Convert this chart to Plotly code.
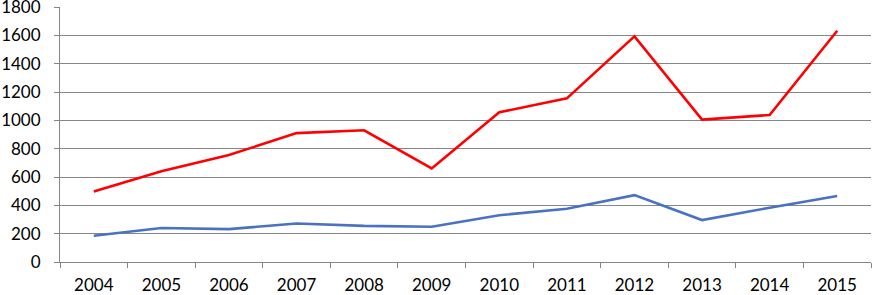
import plotly.graph_objects as go

years = ["2004", "2005", "2006", "2007", "2008", "2009", "2010", "2011", "2012", "2013", "2014", "2015"]
red_values = [497, 640, 755, 910, 930, 660, 1057, 1155, 1593, 1005, 1038, 1632]
blue_values = [185, 240, 232, 272, 255, 249, 330, 376, 472, 296, 383, 466]
y_ticks = [0, 200, 400, 600, 800, 1000, 1200, 1400, 1600, 1800]

fig = go.Figure()
fig.add_trace(go.Scatter(x=years, y=blue_values, mode="lines",
                         line=dict(color="#4A72C2", width=2.6), showlegend=False))
fig.add_trace(go.Scatter(x=years, y=red_values, mode="lines",
                         line=dict(color="#FF0000", width=2.6), showlegend=False))

fig.update_layout(
    width=872, height=295,
    margin=dict(l=60, r=1, t=7, b=33, autoexpand=False),
    paper_bgcolor="white", plot_bgcolor="white",
    font=dict(family="Lato, Open Sans, sans-serif", size=17, color="#000000"),
    xaxis=dict(type="category", range=[-0.5, 11.5], tickson="boundaries",
               ticks="outside", ticklen=5, tickcolor="#868686", automargin=False,
               showline=True, linecolor="#868686", linewidth=1,
               ticklabelstandoff=8,
               showgrid=False, tickfont=dict(size=17)),
    yaxis=dict(range=[0, 1800], tickvals=y_ticks, ticks="outside", ticklen=5,
               tickcolor="#868686", showline=True, linecolor="#868686", linewidth=1,
               automargin=False, ticklabeloverflow="allow", ticklabelstandoff=10,
               showgrid=True, gridcolor="#868686", gridwidth=1, zeroline=False,
               tickfont=dict(size=17)),
)

fig.write_html("out.html", config={"displayModeBar": False},
               post_script="document.body.style.margin='0';document.body.style.overflow='hidden';")
